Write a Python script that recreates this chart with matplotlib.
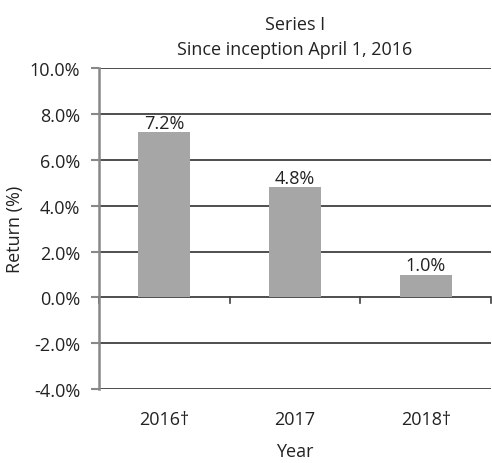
import matplotlib.pyplot as plt
from matplotlib.ticker import FuncFormatter

years = ['2016†', '2017', '2018†']
returns = [7.2, 4.8, 1.0]
y_ticks = [-4, -2, 0, 2, 4, 6, 8, 10]

plt.rcParams['font.family'] = ['Open Sans', 'DejaVu Sans']
fs = 13
txt = '#222222'

fig = plt.figure(figsize=(4.92, 4.64), dpi=100)
ax = fig.add_axes([0.201, 0.159, 0.797, 0.692])

xs = list(range(len(years)))
ax.bar(xs, returns, width=0.4, color='#a6a6a6', zorder=3)
for x, v in zip(xs, returns):
    ax.text(x, v + 0.02, '%.1f%%' % v, ha='center', va='bottom', fontsize=fs, color=txt)

# gridlines
for t in y_ticks:
    ax.axhline(t, color='#404040', lw=1.3, zorder=1)

# small ticks under the zero line between categories
for b in [-0.5, 0.5, 1.5, 2.5]:
    ax.plot([b, b], [0, -0.25], color='#404040', lw=1.2, zorder=2, clip_on=False)

ax.set_xlim(-0.5, 2.5)
ax.set_ylim(-4, 10)
ax.set_yticks(y_ticks)
ax.yaxis.set_major_formatter(FuncFormatter(lambda v, p: '%.1f%%' % v))
ax.set_xticks(xs)
ax.set_xticklabels(years)
ax.tick_params(axis='x', length=0, pad=15, labelsize=fs, labelcolor=txt)
ax.tick_params(axis='y', length=5.5, width=1.5, color='#888888', pad=8, labelsize=fs, labelcolor=txt)

for s in ['top', 'right', 'bottom']:
    ax.spines[s].set_visible(False)
ax.spines['left'].set_color('#888888')
ax.spines['left'].set_linewidth(1.8)

ax.set_ylabel('Return (%)', fontsize=fs, color=txt, labelpad=4)
ax.set_xlabel('Year', fontsize=fs, color=txt, labelpad=10)
ax.set_title('Series I\nSince inception April 1, 2016', fontsize=fs, color=txt, pad=10, linespacing=1.5)

fig.savefig('out.png', dpi=100)
